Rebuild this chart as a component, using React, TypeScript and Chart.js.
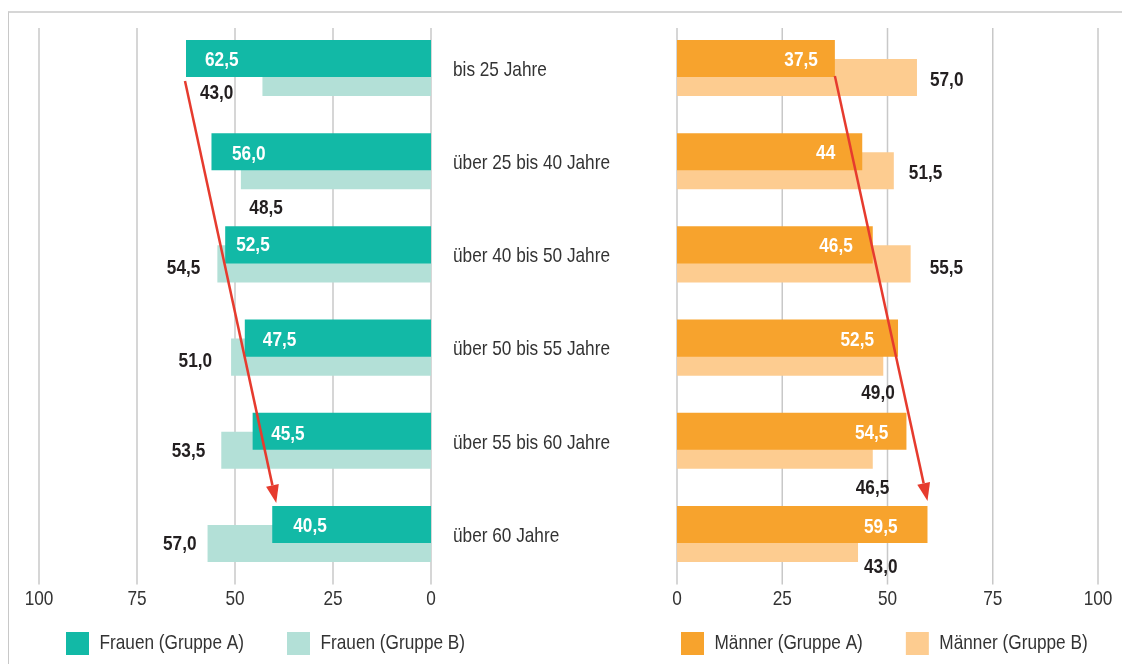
import React, { useEffect, useRef } from "react";
import { Chart, registerables } from "chart.js";

Chart.register(...registerables);

// ---------- data ----------
const ageGroups = [
  "bis 25 Jahre",
  "über 25 bis 40 Jahre",
  "über 40 bis 50 Jahre",
  "über 50 bis 55 Jahre",
  "über 55 bis 60 Jahre",
  "über 60 Jahre",
];
const frauenA = [62.5, 56.0, 52.5, 47.5, 45.5, 40.5];
const frauenB = [43.0, 48.5, 54.5, 51.0, 53.5, 57.0];
const maennerA = [37.5, 44, 46.5, 52.5, 54.5, 59.5];
const maennerB = [57.0, 51.5, 55.5, 49.0, 46.5, 43.0];

const frauenALabels = ["62,5", "56,0", "52,5", "47,5", "45,5", "40,5"];
const frauenBLabels = ["43,0", "48,5", "54,5", "51,0", "53,5", "57,0"];
const maennerALabels = ["37,5", "44", "46,5", "52,5", "54,5", "59,5"];
const maennerBLabels = ["57,0", "51,5", "55,5", "49,0", "46,5", "43,0"];

const seriesNames = ["Frauen (Gruppe A)", "Frauen (Gruppe B)", "Männer (Gruppe A)", "Männer (Gruppe B)"];
const axisMin = 0;
const axisMax = 100;
const axisStep = 25;

// ---------- styles ----------
const FONT = "'Liberation Sans', Arial, sans-serif";
const CONDENSE = 0.82; // emulate a narrow typeface
const TEAL = "#12b9a6";
const TEAL_LIGHT = "#b3e0d7";
const ORANGE = "#f7a32d";
const ORANGE_LIGHT = "#fdcc90";
const RED = "#e63b2e";
const GRID = "#c8c8c8";
const TEXT = "#333333";
const DARK = "#231f20";

// label nudges relative to the bar end / bar centre
const nudgeFA = [[19, 1.5], [20.5, 2.3], [11, 0], [18, 2], [18.5, 2.7], [21, 1.5]];
const nudgeFB = [[-29, 15.5], [42, 37.3], [-17, 4], [-19, 4], [-16, 1], [-11, 0.5]];
const nudgeMA = [[-17, 1.5], [-27, 1.3], [-20, 1], [-24, 2], [-18, 1.7], [-30, 2.5]];
const nudgeMB = [[13, 2.5], [15, 2.3], [19, 4], [-22, 36], [-17, 37.7], [6, 23.5]];

type LabelSet = { ds: number; texts: string[]; color: string; align: CanvasTextAlign; nudges: number[][] };

function condenseContext(canvas: HTMLCanvasElement, factor: number) {
  const ctx = canvas.getContext("2d") as any;
  if (ctx.__condensed) return;
  ctx.__condensed = true;
  const fill = ctx.fillText.bind(ctx);
  const measure = ctx.measureText.bind(ctx);
  ctx.fillText = (text: string, x: number, y: number) => {
    ctx.save();
    ctx.translate(x, y);
    ctx.scale(factor, 1);
    fill(text, 0, 0);
    ctx.restore();
  };
  ctx.measureText = (text: string) => {
    const m = measure(text);
    return {
      width: m.width * factor,
      actualBoundingBoxAscent: m.actualBoundingBoxAscent,
      actualBoundingBoxDescent: m.actualBoundingBoxDescent,
      actualBoundingBoxLeft: m.actualBoundingBoxLeft * factor,
      actualBoundingBoxRight: m.actualBoundingBoxRight * factor,
    };
  };
}

// the x axis is kept short so the legend can sit close; widen its label clip box again
const axisLabelRoom = {
  id: "axisLabelRoom",
  afterLayout(chart: any) {
    const xs = chart.scales.x;
    xs.bottom = xs.top + 40;
  },
};

function makeGridPlugin(topInset: number, tickLen: number) {
  return {
    id: "vgrid",
    beforeDatasetsDraw(chart: any) {
      const { ctx, chartArea } = chart;
      const xs = chart.scales.x;
      ctx.save();
      ctx.strokeStyle = GRID;
      ctx.lineWidth = 1.5;
      xs.ticks.forEach((t: any) => {
        const px = xs.getPixelForValue(t.value);
        ctx.beginPath();
        ctx.moveTo(px, chartArea.top + topInset);
        ctx.lineTo(px, chartArea.bottom + tickLen);
        ctx.stroke();
      });
      ctx.restore();
    },
  };
}

function makeLabelPlugin(sets: LabelSet[]) {
  return {
    id: "valueLabels",
    afterDatasetsDraw(chart: any) {
      const { ctx } = chart;
      sets.forEach((s) => {
        const meta = chart.getDatasetMeta(s.ds);
        meta.data.forEach((el: any, i: number) => {
          const [dx, dy] = s.nudges[i];
          ctx.save();
          ctx.font = `bold 21px ${FONT}`;
          ctx.fillStyle = s.color;
          ctx.textAlign = s.align;
          ctx.textBaseline = "middle";
          ctx.fillText(s.texts[i], el.x + dx, el.y + dy);
          ctx.restore();
        });
      });
    },
  };
}

function makeArrowPlugin(start: number[], end: number[]) {
  return {
    id: "trendArrow",
    afterDatasetsDraw(chart: any) {
      const { ctx } = chart;
      const meta = chart.getDatasetMeta(0);
      const a = meta.data[0];
      const b = meta.data[meta.data.length - 1];
      const x1 = a.x + start[0];
      const y1 = a.y + a.height / 2 + start[1];
      const x2 = b.x + end[0];
      const y2 = b.y - b.height / 2 + end[1];
      const ang = Math.atan2(y2 - y1, x2 - x1);
      const headLen = 18;
      const headHalf = 6.5;
      const bx = x2 - headLen * Math.cos(ang);
      const by = y2 - headLen * Math.sin(ang);
      ctx.save();
      ctx.strokeStyle = RED;
      ctx.fillStyle = RED;
      ctx.lineWidth = 2.5;
      ctx.beginPath();
      ctx.moveTo(x1, y1);
      ctx.lineTo(bx, by);
      ctx.stroke();
      ctx.beginPath();
      ctx.moveTo(x2, y2);
      ctx.lineTo(bx + headHalf * Math.sin(ang), by - headHalf * Math.cos(ang));
      ctx.lineTo(bx - headHalf * Math.sin(ang), by + headHalf * Math.cos(ang));
      ctx.closePath();
      ctx.fill();
      ctx.restore();
    },
  };
}

const tickFont = { family: FONT, size: 21 };
const catFont = { family: FONT, size: 21 };

function legendOpts() {
  return {
    position: "bottom" as const,
    align: "start" as const,
    labels: { boxWidth: 23, boxHeight: 23, padding: 43, color: TEXT, font: { family: FONT, size: 21 } },
  };
}

function xScale(reverse: boolean) {
  return {
    type: "linear" as const,
    position: "bottom" as const,
    reverse,
    min: axisMin,
    max: axisMax,
    grid: { display: false, drawTicks: false },
    border: { display: false },
    ticks: { stepSize: axisStep, padding: 6, color: TEXT, font: tickFont },
    afterFit: (s: any) => {
      s.height = 8.4;
    },
  };
}

function spacer(position: "left" | "right", width: number) {
  return {
    type: "linear" as const,
    position,
    display: true,
    grid: { display: false, drawTicks: false },
    border: { display: false },
    ticks: { display: false },
    afterFit: (s: any) => {
      s.width = width;
      s.paddingTop = 0;
      s.paddingBottom = 0;
    },
  };
}

const barShape = { categoryPercentage: 0.408, barPercentage: 1.95, borderWidth: 0 };

export default function App() {
  const leftRef = useRef<HTMLCanvasElement | null>(null);
  const rightRef = useRef<HTMLCanvasElement | null>(null);

  useEffect(() => {
    const lc = leftRef.current as HTMLCanvasElement;
    const rc = rightRef.current as HTMLCanvasElement;
    condenseContext(lc, CONDENSE);
    condenseContext(rc, CONDENSE);

    const left = new Chart(lc, {
      type: "bar",
      data: {
        labels: ageGroups,
        datasets: [
          { label: seriesNames[0], data: frauenA, backgroundColor: TEAL, yAxisID: "y", xAxisID: "x", ...barShape },
          { label: seriesNames[1], data: frauenB, backgroundColor: TEAL_LIGHT, yAxisID: "y", xAxisID: "x", ...barShape },
        ],
      },
      options: {
        indexAxis: "y",
        animation: false,
        responsive: false,
        events: [],
        layout: { padding: { left: 23, right: 451, top: 21.4, bottom: 15 } },
        scales: {
          x: xScale(true),
          y: {
            type: "category",
            position: "right",
            grid: { display: false, drawTicks: false },
            border: { display: false },
            ticks: { padding: 22, labelOffset: 2, crossAlign: "near", color: TEXT, font: catFont },
            afterFit: (s: any) => {
              s.width = 240;
              s.paddingTop = 0;
              s.paddingBottom = 0;
            },
          },
          yPad: spacer("left", 16),
        },
        plugins: { legend: legendOpts(), tooltip: { enabled: false } },
      } as any,
      plugins: [
        axisLabelRoom,
        makeGridPlugin(6.6, 4),
        makeLabelPlugin([
          { ds: 0, texts: frauenALabels, color: "#ffffff", align: "left", nudges: nudgeFA },
          { ds: 1, texts: frauenBLabels, color: DARK, align: "right", nudges: nudgeFB },
        ]),
        makeArrowPlugin([-1, 4], [4, -3]),
      ],
    });

    const right = new Chart(rc, {
      type: "bar",
      data: {
        labels: ageGroups,
        datasets: [
          { label: seriesNames[2], data: maennerA, backgroundColor: ORANGE, yAxisID: "y", xAxisID: "x", ...barShape },
          { label: seriesNames[3], data: maennerB, backgroundColor: ORANGE_LIGHT, yAxisID: "y", xAxisID: "x", ...barShape },
        ],
      },
      options: {
        indexAxis: "y",
        animation: false,
        responsive: false,
        events: [],
        layout: { padding: { left: 638, right: 40, top: 21.4, bottom: 15 } },
        scales: {
          x: xScale(false),
          y: {
            type: "category",
            position: "left",
            grid: { display: false, drawTicks: false },
            border: { display: false },
            ticks: { display: false },
            afterFit: (s: any) => {
              s.width = 39;
              s.paddingTop = 0;
              s.paddingBottom = 0;
            },
          },
          yR: spacer("right", 162),
        },
        plugins: { legend: legendOpts(), tooltip: { enabled: false } },
      } as any,
      plugins: [
        axisLabelRoom,
        makeGridPlugin(6.6, 4),
        makeLabelPlugin([
          { ds: 0, texts: maennerALabels, color: "#ffffff", align: "right", nudges: nudgeMA },
          { ds: 1, texts: maennerBLabels, color: DARK, align: "left", nudges: nudgeMB },
        ]),
        makeArrowPlugin([0, -1], [0, -5]),
      ],
    });

    return () => {
      left.destroy();
      right.destroy();
    };
  }, []);

  return (
    <div
      style={{
        position: "absolute",
        left: 0,
        top: 0,
        width: 1122,
        height: 664,
        overflow: "hidden",
        background: "#ffffff",
      }}
    >
      <div
        style={{
          position: "absolute",
          left: 8,
          top: 11,
          width: 1300,
          height: 800,
          borderTop: "2px solid #d6d6d6",
          borderLeft: "1px solid #c8c8c8",
        }}
      />
      <canvas ref={leftRef} width={1122} height={680} style={{ position: "absolute", left: 0, top: 0 }} />
      <canvas ref={rightRef} width={1300} height={680} style={{ position: "absolute", left: 0, top: 0 }} />
    </div>
  );
}
